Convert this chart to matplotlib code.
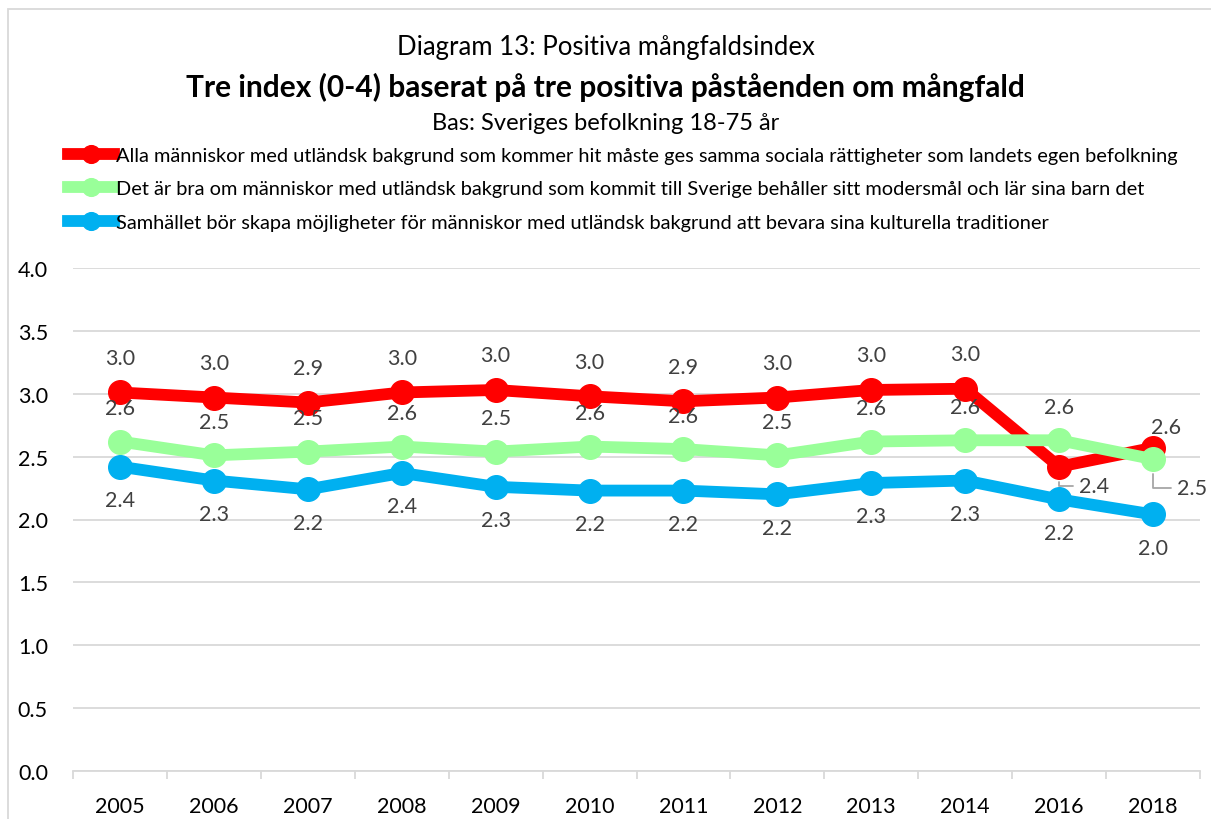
import matplotlib
matplotlib.use("Agg")
import matplotlib.pyplot as plt
from matplotlib.patches import Rectangle

plt.rcParams['font.family'] = ['Lato', 'DejaVu Sans']

years = ["2005", "2006", "2007", "2008", "2009", "2010", "2011", "2012", "2013", "2014", "2016", "2018"]
red_vals = [3.01, 2.97, 2.93, 3.01, 3.03, 2.98, 2.94, 2.97, 3.03, 3.04, 2.42, 2.57]
green_vals = [2.62, 2.51, 2.54, 2.58, 2.54, 2.58, 2.56, 2.51, 2.62, 2.63, 2.63, 2.48]
blue_vals = [2.42, 2.31, 2.24, 2.37, 2.26, 2.23, 2.23, 2.20, 2.29, 2.31, 2.16, 2.04]
series_names = [
    "Alla människor med utländsk bakgrund som kommer hit måste ges samma sociala rättigheter som landets egen befolkning",
    "Det är bra om människor med utländsk bakgrund som kommit till Sverige behåller sitt modersmål och lär sina barn det",
    "Samhället bör skapa möjligheter för människor med utländsk bakgrund att bevara sina kulturella traditioner",
]
colors = ["#FF0000", "#99FF99", "#00B0F0"]
yticks = [0.0, 0.5, 1.0, 1.5, 2.0, 2.5, 3.0, 3.5, 4.0]

fig = plt.figure(figsize=(12.11, 8.2), dpi=100)
ax = fig.add_axes([73/1211, 1-772/820, (1200-73)/1211, (772-269)/820])

x = list(range(len(years)))
lines = []
for vals, c, name in zip([red_vals, green_vals, blue_vals], colors, series_names):
    ln, = ax.plot(x, vals, color=c, lw=8.5, marker='o', ms=17, label=name,
                  solid_joinstyle='round', zorder=3)
    lines.append(ln)

ax.set_ylim(0, 4)
ax.set_xlim(-0.5, len(years)-0.5)
ax.set_yticks(yticks)
ax.set_yticklabels([f"{v:.1f}" for v in yticks])
ax.grid(axis='y', color='#D9D9D9', lw=1.3, zorder=0)
ax.set_axisbelow(True)
for s in ['top', 'right', 'left']:
    ax.spines[s].set_visible(False)
ax.spines['bottom'].set_color('#D9D9D9')
ax.spines['bottom'].set_linewidth(1.3)
ax.set_xticks([i + 0.5 for i in range(-1, len(years))], minor=False)
ax.set_xticklabels([])
ax.tick_params(axis='x', which='major', length=6, color='#D9D9D9', width=1.3)
ax.set_xticks(x, minor=True)
ax.set_xticklabels(years, minor=True)
ax.tick_params(axis='x', which='minor', length=0, pad=18, labelsize=15.5, labelcolor='#000000')
ax.tick_params(axis='y', length=0, pad=18, labelsize=15.5, labelcolor='#000000')

lab_col = '#404040'
fs = 15.5
def lab(xi, v, dx, dy, ha='center', va='center', leader=None):
    kw = {}
    if leader:
        kw['arrowprops'] = dict(arrowstyle='-', color='#A6A6A6', lw=1.3,
                                connectionstyle=leader, shrinkA=2, shrinkB=11)
    ax.annotate(f"{v:.1f}", (xi, v), xytext=(dx, dy), textcoords='offset points',
                ha=ha, va=va, fontsize=fs, color=lab_col, **kw)

for i, v in enumerate(red_vals):
    if i == 10:
        lab(i, v, 25, -14, leader='angle,angleA=0,angleB=90')
    elif i == 11:
        lab(i, v, 9, 15)
    else:
        lab(i, v, 0, 25)
for i, v in enumerate(green_vals):
    if i == 11:
        lab(i, v, 28, -21, leader='angle,angleA=0,angleB=90')
    else:
        lab(i, v, 0, 24)
for i, v in enumerate(blue_vals):
    lab(i, v, 0, -24)

fig.text(0.5, 1-47/820, "Diagram 13: Positiva mångfaldsindex", ha='center', va='center', fontsize=18.5)
fig.text(0.5, 1-87/820, "Tre index (0-4) baserat på tre positiva påståenden om mångfald", ha='center', va='center', fontsize=21.5, fontweight='bold')
fig.text(0.5, 1-123/820, "Bas: Sveriges befolkning 18-75 år", ha='center', va='center', fontsize=17)

leg = fig.legend(handles=lines, loc='upper left', bbox_to_anchor=(68/1211, 1-148/820),
                 frameon=False, fontsize=14.4, handlelength=2.3, handletextpad=0.1,
                 labelspacing=0.82, borderaxespad=0, borderpad=0, markerscale=0.75)

fig.patches.append(Rectangle((8/1211, -0.1), 1.2, 1.1 - 10/820, transform=fig.transFigure,
                             fill=False, edgecolor='#D9D9D9', lw=1.3))

fig.savefig("out.png", dpi=100)
